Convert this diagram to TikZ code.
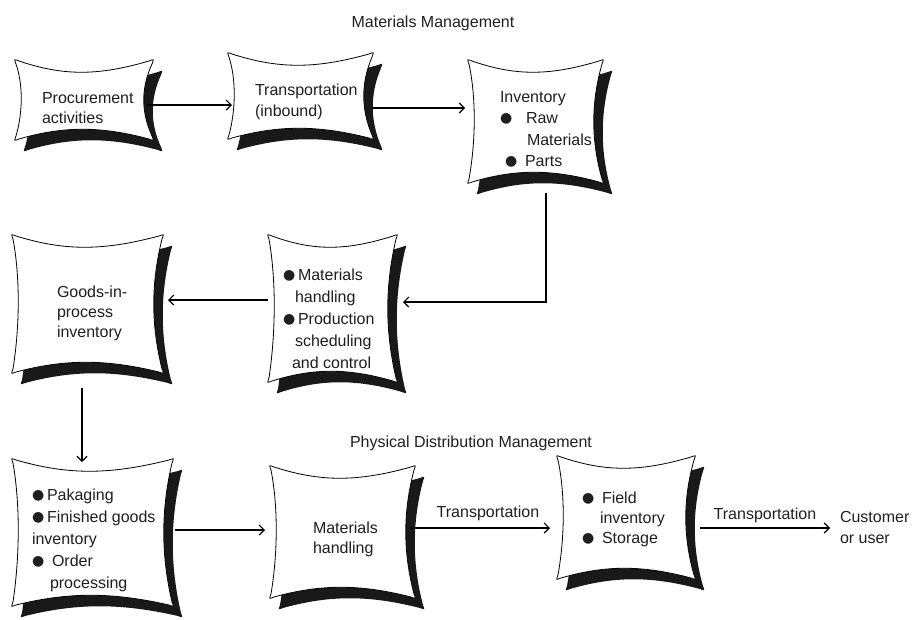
\documentclass[tikz,border=0pt]{standalone}
\usepackage{fontspec}
\setmainfont{Liberation Sans}
\newfontfamily\djv{DejaVu Sans}
\usetikzlibrary{arrows.meta,calc}
\newcommand\bul{\raisebox{0.8pt}{\djv\fontsize{14}{14}\selectfont ●}}
\newcommand\Lines[2]{\vtop{\baselineskip=#1pt\relax #2}}
\newcommand\pillowpath[2]{(4,1) .. controls ({0.35*#1},16) and ({0.6*#1},16) .. ({#1-4},1)
 .. controls ({#1+1},-1) .. ({#1-1},4)
 .. controls ({#1-12},{0.35*#2}) and ({#1-12},{0.65*#2}) .. ({#1-1},{#2-4})
 .. controls ({#1+1},{#2+1}) .. ({#1-4},{#2-1})
 .. controls ({0.62*#1},{#2-14}) and ({0.35*#1},{#2-14}) .. (4,{#2-1})
 .. controls (-1,{#2+1}) .. (1,{#2-4})
 .. controls (8,{0.65*#2}) and (8,{0.3*#2}) .. (1,4)
 .. controls (-1,-1) .. (4,1) -- cycle}
\tikzset{
  pics/pillow/.style 2 args={code={
    \fill[black!90, shift={(9,11)}] \pillowpath{#1}{#2};
    \filldraw[fill=white, draw=black, line width=0.8pt] \pillowpath{#1}{#2};
  }},
  boxn/.style={draw=none, inner sep=0pt, outer sep=0pt, rectangle},
  txt/.style={inner sep=0pt, outer sep=0pt, anchor=base west, text=black!88, font=\fontsize{16}{20}\selectfont},
  ttl/.style={inner sep=0pt, anchor=base, text=black!88, font=\fontsize{16}{20}\selectfont},
  arr/.style={line width=1.2pt, -{Straight Barb[length=5pt,width=10pt]}},
}
\begin{document}
\begin{tikzpicture}[x=1pt,y=-1pt]
\useasboundingbox (0,0) rectangle (916,619);
% boxes
\node[boxn, minimum width=138pt, minimum height=80pt]  (b1) at (84,100) {};
\node[boxn, minimum width=145pt, minimum height=86pt]  (b2) at (300.5,96) {};
\node[boxn, minimum width=135pt, minimum height=123pt] (b3) at (535.5,121.5) {};
\node[boxn, minimum width=129pt, minimum height=147pt] (b4) at (332.5,308.5) {};
\node[boxn, minimum width=151pt, minimum height=138pt] (b5) at (87.5,304) {};
\node[boxn, minimum width=161pt, minimum height=147pt] (b6) at (92.5,532.5) {};
\node[boxn, minimum width=145pt, minimum height=132pt] (b7) at (342.5,532) {};
\node[boxn, minimum width=138pt, minimum height=123pt] (b8) at (626,517.5) {};
\pic at (b1.north west) {pillow={138}{80}};
\pic at (b2.north west) {pillow={145}{86}};
\pic at (b3.north west) {pillow={135}{123}};
\pic at (b4.north west) {pillow={129}{147}};
\pic at (b5.north west) {pillow={151}{138}};
\pic at (b6.north west) {pillow={161}{147}};
\pic at (b7.north west) {pillow={145}{132}};
\pic at (b8.north west) {pillow={138}{123}};
% titles
\node[ttl] (mm) at (433,27) {Materials Management};
\node[ttl] (pdm) at (471,447) {Physical Distribution Management};
% box texts
\node[txt] (t1) at (42,103) {\Lines{20}{\hbox{Procurement}\hbox{activities}}};
\node[txt] (t2) at (255,95) {\Lines{21}{\hbox{Transportation}\hbox{(inbound)}}};
\node[txt] (t3) at (500,102) {\Lines{21.5}{\hbox{Inventory}\hbox{\makebox[26pt][l]{\bul}Raw}\hbox{\hspace*{27pt}Materials}\hbox{\hspace*{5pt}\makebox[20pt][l]{\bul}Parts}}};
\node[txt] (t4) at (283,280) {\Lines{22}{\hbox{\makebox[15pt][l]{\bul}Materials}\hbox{\hspace*{12pt}handling}\hbox{\makebox[15pt][l]{\bul}Production}\hbox{\hspace*{12pt}scheduling}\hbox{\hspace*{9pt}and control}}};
\node[txt] (t5) at (57,297) {\Lines{20}{\hbox{Goods-in-}\hbox{process}\hbox{inventory}}};
\node[txt] (t6) at (32,500) {\Lines{22}{\hbox{\makebox[15pt][l]{\bul}Pakaging}\hbox{\makebox[15pt][l]{\bul}Finished goods}\hbox{inventory}\hbox{\makebox[20pt][l]{\bul}Order}\hbox{\hspace*{18pt}processing}}};
\node[txt] (t7) at (313,533) {\Lines{20}{\hbox{Materials}\hbox{handling}}};
\node[txt] (t8) at (582,503) {\Lines{20}{\hbox{\makebox[20pt][l]{\bul}Field}\hbox{\hspace*{18pt}inventory}\hbox{\makebox[20pt][l]{\bul}Storage}}};
\node[txt] (cu) at (840,522) {\Lines{21}{\hbox{Customer}\hbox{or user}}};
% connector coordinates
\coordinate (a1s) at ($(b1.east)+(-6,5)$);
\coordinate (a2s) at ($(b2.east)+(0,12)$);
\coordinate (a3s) at ($(b3.south)+(10.5,10)$);
\coordinate (a3e) at ($(b4.east)+(6,-6.5)$);
\coordinate (a4s) at ($(b4.west)+(0,-8.5)$);
\coordinate (a5s) at ($(b5.south)+(-5.5,15)$);
\coordinate (a6s) at ($(b6.east)+(2,-2.5)$);
\coordinate (a7s) at ($(b7.east)+(-5,-4)$);
\coordinate (a8s) at ($(b8.east)+(5,10.5)$);
% connectors
\draw[arr] (a1s) -- ($(a1s -| b2.west)+(4,0)$);
\draw[arr] (a2s) -- ($(a2s -| b3.west)+(-3,0)$);
\draw[arr] (a3s) |- (a3e);
\draw[arr] (a4s) -- ($(a4s -| b5.east)+(5,0)$);
\draw[arr] (a5s) -- ($(a5s |- b6.north)+(0,3)$);
\draw[arr] (a6s) -- ($(a6s -| b7.west)+(-5,0)$);
\draw[arr] (a7s) -- ($(a7s -| b8.west)+(-7,0)$);
\draw[arr] (a8s) -- ($(a8s -| cu.west)+(-10,0)$);
\node[ttl] (l1) at (488,517) {Transportation};
\node[ttl] (l2) at (765,519) {Transportation};
\end{tikzpicture}
\end{document}
